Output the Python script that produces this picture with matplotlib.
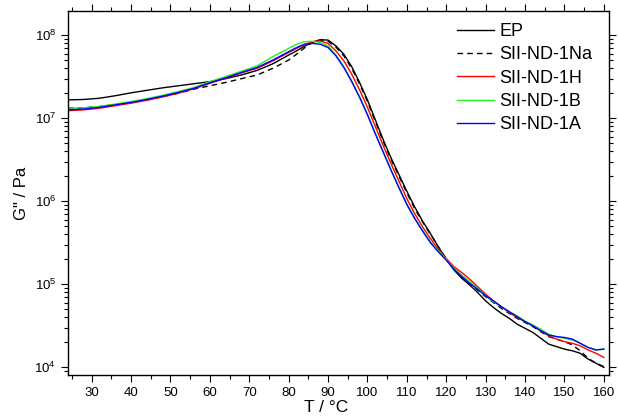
import numpy as np
import matplotlib
matplotlib.use("Agg")
import matplotlib.pyplot as plt
from matplotlib.ticker import LogLocator, MultipleLocator, NullFormatter

plt.rcParams['font.family'] = ['Liberation Sans', 'DejaVu Sans']
plt.rcParams['mathtext.fontset'] = 'custom'
plt.rcParams['mathtext.rm'] = 'Liberation Sans'
plt.rcParams['mathtext.it'] = 'Liberation Sans:italic'
plt.rcParams['mathtext.bf'] = 'Liberation Sans:bold'

# Temperature (°C)
T = [24, 28, 32, 36, 40, 44, 48, 52, 56, 60, 64, 68, 72, 76, 80, 82, 84, 86, 88, 90,
     92, 94, 96, 98, 100, 102, 104, 106, 108, 110, 112, 114, 116, 118, 120, 122, 124,
     126, 128, 130, 132, 134, 136, 138, 140, 142, 144, 146, 148, 150, 152, 154, 156, 158, 160]

# log10(G'' / Pa)
logG_EP = [7.22, 7.225, 7.24, 7.27, 7.305, 7.335, 7.365, 7.39, 7.415, 7.44, 7.475, 7.52, 7.575,
           7.655, 7.76, 7.81, 7.865, 7.915, 7.945, 7.94, 7.87, 7.77, 7.62, 7.43, 7.22, 6.98,
           6.74, 6.52, 6.32, 6.12, 5.93, 5.76, 5.61, 5.45, 5.30, 5.17, 5.07, 4.99, 4.90, 4.80,
           4.72, 4.65, 4.59, 4.52, 4.47, 4.42, 4.35, 4.28, 4.25, 4.22, 4.20, 4.17, 4.10, 4.05, 4.00]
logG_Na = [7.12, 7.125, 7.14, 7.165, 7.19, 7.22, 7.26, 7.30, 7.35, 7.39, 7.43, 7.475, 7.52,
           7.60, 7.70, 7.77, 7.845, 7.91, 7.935, 7.925, 7.855, 7.75, 7.60, 7.41, 7.20, 6.96,
           6.72, 6.50, 6.30, 6.10, 5.91, 5.75, 5.60, 5.45, 5.31, 5.19, 5.08, 5.00, 4.93, 4.85,
           4.78, 4.71, 4.65, 4.59, 4.54, 4.49, 4.43, 4.37, 4.34, 4.31, 4.27, 4.20, 4.11, 4.05, 4.01]
logG_H = [7.09, 7.10, 7.12, 7.15, 7.18, 7.215, 7.255, 7.30, 7.355, 7.42, 7.48, 7.545, 7.60,
          7.69, 7.79, 7.84, 7.885, 7.92, 7.93, 7.90, 7.81, 7.69, 7.53, 7.34, 7.13, 6.90,
          6.67, 6.45, 6.24, 6.03, 5.85, 5.69, 5.55, 5.42, 5.31, 5.21, 5.14, 5.06, 4.97, 4.88,
          4.80, 4.73, 4.66, 4.60, 4.55, 4.50, 4.44, 4.38, 4.34, 4.31, 4.29, 4.26, 4.21, 4.17, 4.12]
logG_B = [7.12, 7.125, 7.14, 7.17, 7.20, 7.235, 7.275, 7.32, 7.37, 7.44, 7.50, 7.565, 7.63,
          7.74, 7.84, 7.89, 7.92, 7.925, 7.91, 7.87, 7.76, 7.62, 7.45, 7.26, 7.05, 6.82,
          6.60, 6.38, 6.17, 5.97, 5.80, 5.65, 5.51, 5.40, 5.30, 5.19, 5.11, 5.03, 4.95, 4.86,
          4.79, 4.73, 4.67, 4.62, 4.56, 4.51, 4.46, 4.40, 4.37, 4.35, 4.33, 4.29, 4.24, 4.21, 4.22]
logG_A = [7.10, 7.11, 7.13, 7.16, 7.19, 7.225, 7.265, 7.31, 7.36, 7.425, 7.485, 7.55, 7.61,
          7.70, 7.80, 7.85, 7.89, 7.90, 7.89, 7.85, 7.75, 7.61, 7.44, 7.25, 7.04, 6.81,
          6.59, 6.37, 6.16, 5.96, 5.79, 5.64, 5.50, 5.39, 5.29, 5.18, 5.09, 5.01, 4.94, 4.86,
          4.80, 4.73, 4.67, 4.61, 4.55, 4.50, 4.44, 4.39, 4.37, 4.36, 4.34, 4.29, 4.24, 4.21, 4.22]

labels = ['EP', 'SII-ND-1Na', 'SII-ND-1H', 'SII-ND-1B', 'SII-ND-1A']
series = [logG_EP, logG_Na, logG_H, logG_B, logG_A]
colors = ['black', 'black', '#ff0000', '#22ee22', '#0000ff']
styles = ['-', (0, (4, 3)), '-', '-', '-']

fig = plt.figure(figsize=(6.18, 4.19), dpi=100)
ax = fig.add_axes([68/618, 1 - 375/419, (609-68)/618, (375-11)/419])

for lg, c, ls, lab in zip(series, colors, styles, labels):
    ax.plot(T, 10 ** np.array(lg), color=c, ls=ls, lw=1.0, label=lab)

ax.set_yscale('log')
ax.set_xlim(24, 161.3)
ax.set_ylim(8.1e3, 1.95e8)

ax.xaxis.set_major_locator(MultipleLocator(10))
ax.xaxis.set_minor_locator(MultipleLocator(5))
ax.yaxis.set_major_locator(LogLocator(base=10, numticks=20))
ax.yaxis.set_minor_locator(LogLocator(base=10, subs=np.arange(2, 10), numticks=20))
ax.yaxis.set_minor_formatter(NullFormatter())

ax.tick_params(axis='both', which='major', labelsize=9.5, width=0.8, length=5, direction='out')
ax.tick_params(axis='both', which='minor', width=0.8, length=3, direction='out')
ax.tick_params(top=True, right=True, which='both')
for s in ax.spines.values():
    s.set_linewidth(1.0)

ax.set_xlabel('T / °C', fontsize=12.5, labelpad=2)
ax.xaxis.set_label_coords(0.477, -0.07, transform=ax.transAxes)
ax.xaxis.label.set_va('top')
ax.set_ylabel('G" / Pa', fontsize=12, labelpad=4)

ax.legend(loc='upper left', bbox_to_anchor=(0.719, 0.967), frameon=False, fontsize=13,
          handlelength=2.05, handletextpad=0.3, labelspacing=0.35, borderpad=0, borderaxespad=0)

fig.savefig('out.png', dpi=100)
